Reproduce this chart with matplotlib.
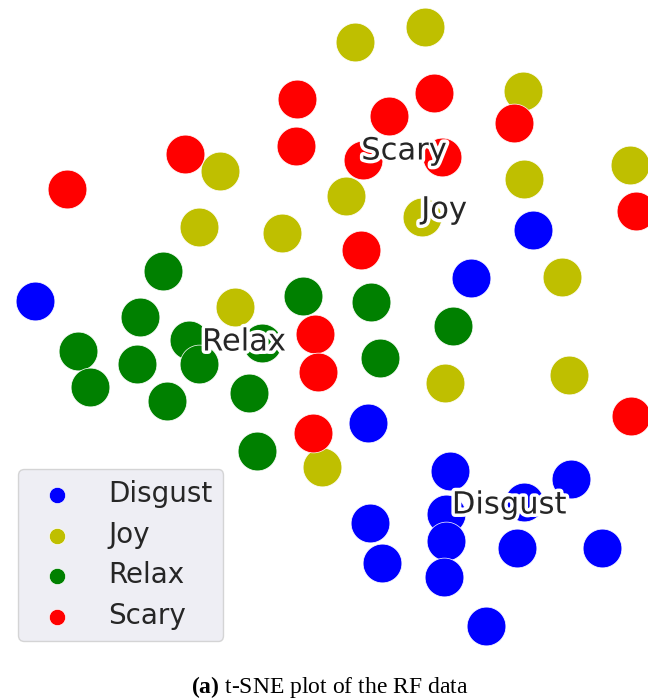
import matplotlib
matplotlib.use("Agg")
import matplotlib.pyplot as plt
import matplotlib.patheffects as pe
import numpy as np

# t-SNE coordinates (y grows downward)
disgust_x = [35, 533, 471, 368, 450, 571, 524, 446, 370, 446, 382, 517, 602, 444, 486]
disgust_y = [301, 230, 278, 423, 471, 479, 502, 514, 523, 541, 563, 548, 548, 577, 626]

joy_x = [355, 425, 523, 630, 220, 524, 346, 199, 282, 422, 562, 235, 445, 569, 322]
joy_y = [42, 27, 91, 165, 171, 179, 196, 227, 233, 217, 277, 307, 383, 375, 467]

relax_x = [163, 140, 303, 371, 453, 78, 189, 262, 137, 199, 380, 90, 249, 167, 257]
relax_y = [271, 317, 296, 302, 326, 351, 340, 343, 364, 364, 358, 387, 393, 401, 451]

scary_x = [297, 434, 389, 514, 185, 296, 363, 442, 67, 636, 361, 315, 318, 313, 631]
scary_y = [99, 93, 116, 123, 154, 146, 160, 157, 189, 211, 250, 334, 372, 433, 416]

labels = ["Disgust", "Joy", "Relax", "Scary"]
colors = ["b", "y", "g", "r"]
# where the class names are written
label_x = [509, 444, 244, 404]
label_y = [505, 210, 342, 151]

plt.rcParams["mathtext.fontset"] = "custom"
plt.rcParams["mathtext.rm"] = "Liberation Serif"
plt.rcParams["mathtext.bf"] = "Liberation Serif:bold"

fig = plt.figure(figsize=(6.48, 7.0), dpi=100)
ax = fig.add_axes([0, 50 / 700, 1, 650 / 700])

xs = [disgust_x, joy_x, relax_x, scary_x]
ys = [disgust_y, joy_y, relax_y, scary_y]
for x, y, c, lab in zip(xs, ys, colors, labels):
    ax.scatter(x, y, s=780, c=c, edgecolors="white", linewidths=0.5, label=lab)

for lx, ly, lab in zip(label_x, label_y, labels):
    t = ax.text(lx, ly, lab, fontsize=22, color="#262626", ha="center", va="center")
    t.set_path_effects([pe.Stroke(linewidth=5, foreground="white"), pe.Normal()])

ax.set_xlim(0, 648)
ax.set_ylim(650, 0)
ax.axis("off")

leg = ax.legend(loc="lower left", bbox_to_anchor=(18 / 648, 9 / 650), borderaxespad=0,
                fontsize=20, markerscale=0.42, handlelength=2.0, handletextpad=0.84,
                labelspacing=0.45, borderpad=0.4, facecolor="#EAEAF2", edgecolor="#cccccc",
                framealpha=0.8, fancybox=True)
for txt in leg.get_texts():
    txt.set_color("#262626")

fig.text(330 / 648, 13 / 700, r"$\mathbf{(a)}$ t-SNE plot of the RF data",
         family="Liberation Serif", fontsize=17, ha="center", va="center")

fig.savefig("out.png", dpi=100)
